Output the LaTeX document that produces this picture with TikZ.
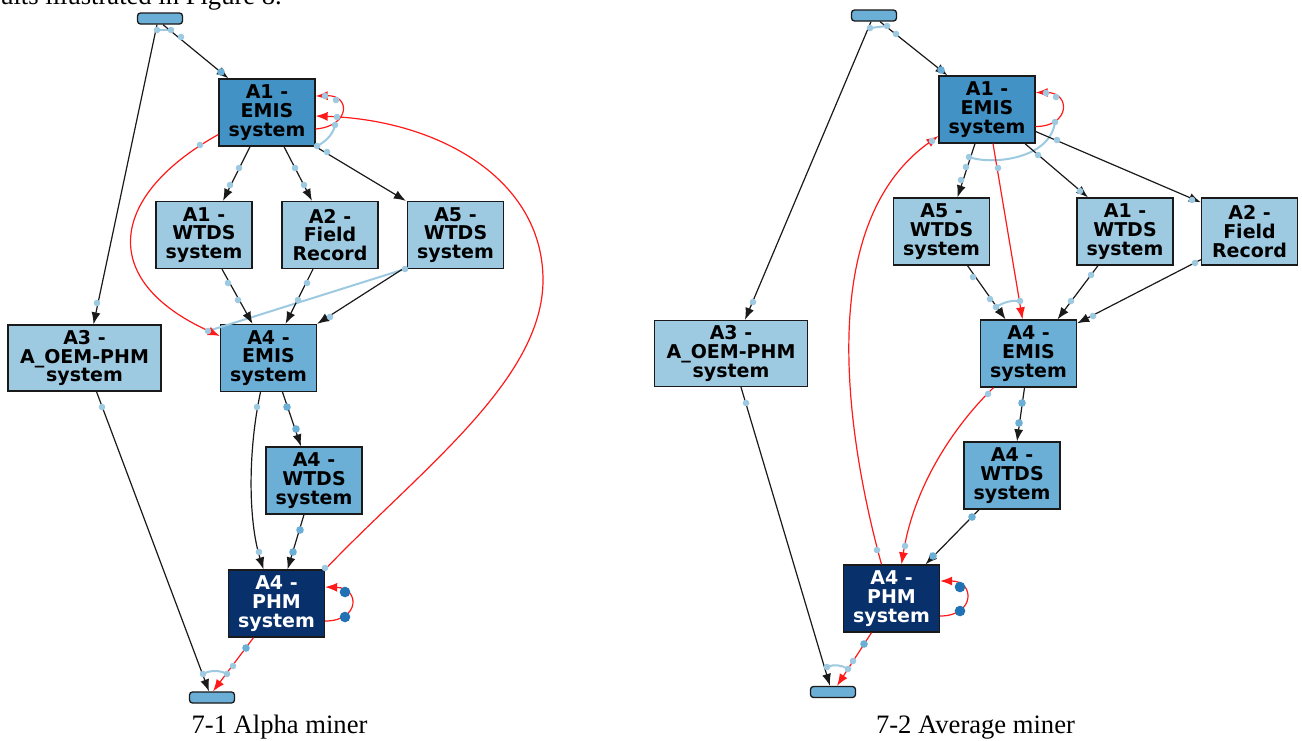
\documentclass[tikz,border=0pt]{standalone}
\usepackage{fontspec}
\setmainfont{Liberation Serif}
\newfontfamily\vfont{DejaVu Sans}[BoldFont={DejaVu Sans Bold}]
\usetikzlibrary{arrows.meta,calc}
\definecolor{cLight}{HTML}{9ECAE1}
\definecolor{cMid}{HTML}{6BAED6}
\definecolor{cAone}{HTML}{4292C6}
\definecolor{cNavy}{HTML}{08306B}
\definecolor{cDark}{HTML}{2171B5}
\definecolor{cRed}{HTML}{FF1A1A}
\definecolor{cLine}{HTML}{1A1A1A}
\newcommand{\dotL}[1]{\fill[cLight] #1 circle (3.3pt);}
\newcommand{\dotM}[1]{\fill[cMid] #1 circle (3.8pt);}
\newcommand{\dotD}[1]{\fill[cDark] #1 circle (5.3pt);}
\begin{document}
\begin{tikzpicture}[x=1pt,y=-1pt,
  box/.style={draw=cLine, line width=1.3pt, minimum width=96pt, minimum height=67pt,
    inner sep=0pt, align=center, font=\vfont\bfseries\fontsize{19}{18.8}\selectfont},
  lbox/.style={box, fill=cLight},
  mbox/.style={box, fill=cMid},
  ebox/.style={box, fill=cAone},
  pbox/.style={box, fill=cNavy, text=white},
  widebox/.style={minimum width=153pt, minimum height=66pt},
  term/.style={draw=cLine, line width=1.3pt, fill=cMid, rounded corners=3pt,
    minimum width=45pt, minimum height=11pt, inner sep=0pt},
  conn/.style={line width=1.2pt, -{Latex[length=12pt,width=9pt]}},
  blk/.style={conn, color=cLine},
  rd/.style={conn, color=cRed},
  joinl/.style={draw=cLight, line width=2pt},
  capt/.style={inner sep=0pt, font=\fontsize{26.6}{30}\selectfont}]
\useasboundingbox (0,0) rectangle (1302,740);
\fill[white] (0,0) rectangle (1302,740);

% ---------- texts
\node[capt, anchor=base east] (topt) at (282,4) {ults illustrated in Figure 8.};
\node[capt, anchor=base] (cap1) at (279.5,733) {7-1 Alpha miner};
\node[capt, anchor=base] (cap2) at (975.5,733) {7-2 Average miner};

% ---------- left graph nodes
\node[term] (lS) at (160,18.5) {};
\node[ebox] (lA1E) at (267,112.5) {A1 -\\EMIS\\system};
\node[lbox] (lA1W) at (204,235) {A1 -\\WTDS\\system};
\node[lbox] (lA2F) at (330,235) {A2 -\\Field\\Record};
\node[lbox] (lA5W) at (455.5,235) {A5 -\\WTDS\\system};
\node[lbox, widebox] (lA3) at (84.5,358) {A3 -\\A\_OEM-PHM\\system};
\node[mbox] (lA4E) at (268.5,358) {A4 -\\EMIS\\system};
\node[mbox] (lA4W) at (314,480.5) {A4 -\\WTDS\\system};
\node[pbox] (lPHM) at (276.5,603.5) {A4 -\\PHM\\system};
\node[term] (lE) at (212,697.5) {};

% ---------- right graph nodes
\node[term] (rS) at (874,15.5) {};
\node[ebox] (rA1E) at (987,109.5) {A1 -\\EMIS\\system};
\node[lbox] (rA5W) at (941.5,231.5) {A5 -\\WTDS\\system};
\node[lbox] (rA1W) at (1125,231.5) {A1 -\\WTDS\\system};
\node[lbox] (rA2F) at (1249.5,231.5) {A2 -\\Field\\Record};
\node[lbox, widebox] (rA3) at (731,353.5) {A3 -\\A\_OEM-PHM\\system};
\node[mbox] (rA4E) at (1028.5,353.5) {A4 -\\EMIS\\system};
\node[mbox] (rA4W) at (1012,475.5) {A4 -\\WTDS\\system};
\node[pbox] (rPHM) at (891.5,598.5) {A4 -\\PHM\\system};
\node[term] (rE) at (833,692) {};

% ---------- left graph connectors
\draw[joinl] (157,30) -- (171,30);
\draw[joinl] (335,125) .. controls (333,135) and (325,142) .. (317,146);
\draw[joinl] (405,269) -- (208,331);
\draw[joinl] (203,674) .. controls (210,670) and (220,670) .. (227,674);

\draw[blk] ([xshift=3pt]lS.south) -- ([xshift=10pt]lA1E.north west);
\draw[blk] ([xshift=-3pt]lS.south) -- ([xshift=9pt]lA3.north);
\draw[blk] ([xshift=-17pt]lA1E.south) -- ([xshift=19pt]lA1W.north);
\draw[blk] ([xshift=17pt]lA1E.south) -- ([xshift=-18pt]lA2F.north);
\draw[blk] (lA1E.south east) -- ([xshift=-1pt]lA5W.north west);
\draw[rd] ([yshift=-16.5pt]lA1E.east) .. controls +(35,-3) and +(35,-1) .. ([yshift=16.5pt]lA1E.east);
\draw[rd] ([yshift=-22pt]lA1E.west) .. controls (110,195) and (96,280) .. ([yshift=22pt]lA4E.west);
\draw[blk] ([xshift=18pt]lA1W.south) -- ([xshift=-16pt]lA4E.north);
\draw[blk] ([xshift=-17pt]lA2F.south) -- ([xshift=17pt]lA4E.north);
\draw[blk] ([xshift=-53pt]lA5W.south) -- (lA4E.north east);
\draw[blk] ([xshift=14pt]lA4E.south) -- ([xshift=-13pt]lA4W.north);
\draw[blk] ([xshift=-8pt]lA4E.south) .. controls (248,450) and (248,520) .. ([xshift=-13pt]lPHM.north);
\draw[blk] ([xshift=-10pt]lA4W.south) -- ([xshift=11pt]lPHM.north);
\draw[rd] (lPHM.north east) .. controls (420,470) and (543,380) .. (543,280)
  .. controls (543,180) and (440,120) .. ([yshift=-3.5pt]lA1E.east);
\draw[rd] ([yshift=-17.5pt]lPHM.east) .. controls +(35,0) and +(35,1) .. ([yshift=16.5pt]lPHM.east);
\draw[rd] ([xshift=-23pt]lPHM.south) -- ([xshift=1pt]lE.north);
\draw[blk] ([xshift=12pt]lA3.south) -- ([xshift=-3pt]lE.north);

\dotL{(157,30)} \dotL{(171,30)} \dotL{(181,37)} \dotM{(221,72)}
\dotL{(97,303)}
\dotL{(239,168)} \dotL{(230,185)} \dotL{(295,168)} \dotL{(304,185)}
\dotL{(317,146)} \dotL{(327,152)}
\dotL{(325,96)} \dotL{(336,100)} \dotL{(335,125)} \dotL{(337,117)}
\dotL{(200,145)} \dotL{(208,331)}
\dotL{(228,283)} \dotL{(238,300)} \dotL{(307,283)} \dotL{(298,300)} \dotL{(330,317)} \dotL{(405,269)}
\dotM{(287,407)} \dotM{(296,429)}
\dotL{(257,407)} \dotL{(259,552)}
\dotM{(300,530)} \dotM{(293,552)}
\dotL{(325,568)}
\dotD{(345,592)} \dotD{(345,617)}
\dotM{(246,648)} \dotL{(233,666)} \dotL{(227,674)} \dotL{(203,674)}
\dotL{(102,407)}

% ---------- right graph connectors
\draw[joinl] (870,28) -- (887,26);
\draw[joinl] (1055,122) .. controls (1050,160) and (990,165) .. (969,157);
\draw[joinl] (996,307) .. controls (1004,302) and (1012,300) .. (1020,301);
\draw[joinl] (827,667) .. controls (834,664) and (842,665) .. (848,669);

\draw[blk] ([xshift=6pt]rS.south) -- ([xshift=9pt]rA1E.north west);
\draw[blk] ([xshift=-3pt]rS.south) -- ([xshift=14pt]rA3.north);
\draw[rd] ([yshift=-17pt]rA1E.east) .. controls +(35,0) and +(35,0) .. ([yshift=17pt]rA1E.east);
\draw[blk] ([xshift=-12pt]rA1E.south) -- ([xshift=16pt]rA5W.north);
\draw[rd] ([xshift=6pt]rA1E.south) -- ([xshift=-6pt]rA4E.north);
\draw[blk] ([xshift=38pt]rA1E.south) -- ([xshift=-37pt]rA1W.north);
\draw[blk] ([yshift=-22pt]rA1E.east) -- ([yshift=-5pt]rA2F.north west);
\draw[rd] ([xshift=-10pt]rPHM.north) .. controls (855,468) and (805,231) .. ([yshift=-26.5pt]rA1E.west);
\draw[blk] ([xshift=26pt]rA5W.south) -- ([xshift=-23pt]rA4E.north);
\draw[blk] ([xshift=-27pt]rA1W.south) -- ([xshift=29pt]rA4E.north);
\draw[blk] ([yshift=6pt]rA2F.south west) -- ([yshift=-4pt]rA4E.north east);
\draw[rd] ([xshift=-35pt]rA4E.south) .. controls (960,420) and (915,480) .. ([xshift=10pt]rPHM.north);
\draw[blk] ([xshift=-4pt]rA4E.south) -- ([xshift=5pt]rA4W.north);
\draw[blk] ([xshift=-33pt]rA4W.south) -- ([xshift=34pt]rPHM.north);
\draw[rd] ([yshift=-17.5pt]rPHM.east) .. controls +(35,0) and +(35,0) .. ([yshift=17.5pt]rPHM.east);
\draw[rd] ([xshift=-20pt]rPHM.south) -- ([xshift=4pt]rE.north);
\draw[blk] ([xshift=10pt]rA3.south) -- ([xshift=-3pt]rE.north);

\dotL{(870,28)} \dotL{(887,26)} \dotL{(896,34)} \dotM{(941,70)}
\dotL{(753,302)}
\dotL{(1046,93)} \dotL{(1056,97)} \dotL{(1055,122)}
\dotL{(969,157)} \dotL{(966,167)} \dotL{(961,180)}
\dotL{(998,168)} \dotL{(1020,301)}
\dotL{(1038,155)} \dotL{(1080,191)}
\dotL{(1057,140)} \dotL{(1192,200)}
\dotL{(932,141)} \dotL{(877,550)}
\dotL{(973,277)} \dotL{(990,299)} \dotL{(996,307)}
\dotL{(1091,275)} \dotL{(1071,301)}
\dotL{(1195,263)} \dotL{(1093,316)}
\dotL{(988,394)} \dotL{(905,546)}
\dotM{(1022,403)} \dotM{(1019,423)}
\dotM{(972,517)} \dotM{(933,556)}
\dotD{(960,587)} \dotD{(960,611)}
\dotM{(864,644)} \dotL{(853,661)} \dotL{(848,669)}
\dotL{(746,403)} \dotL{(827,667)}
\end{tikzpicture}
\end{document}
